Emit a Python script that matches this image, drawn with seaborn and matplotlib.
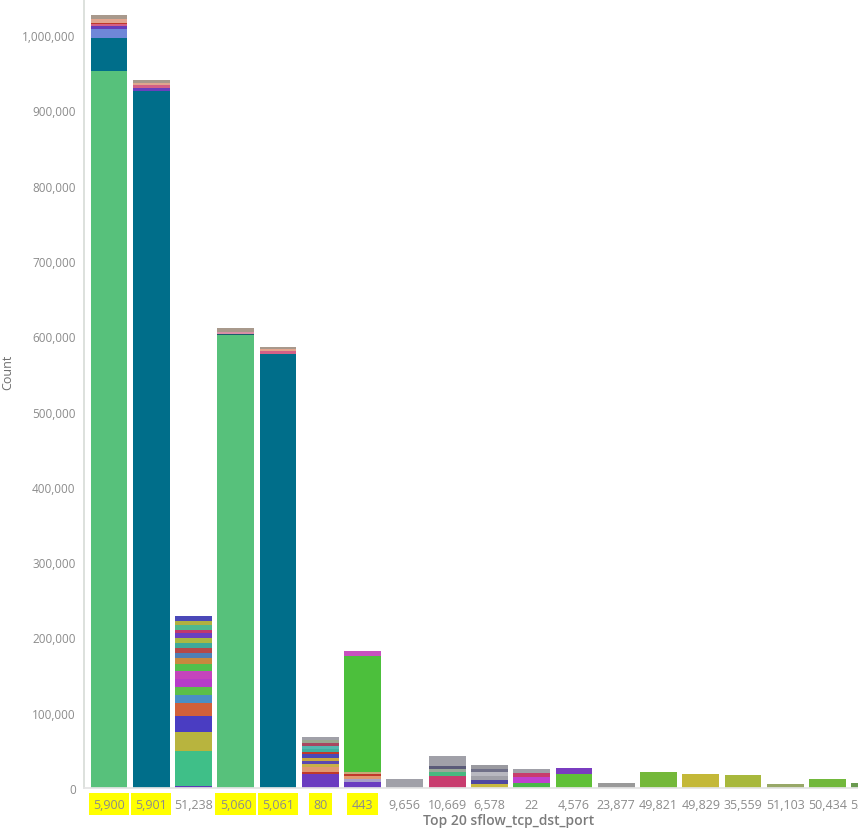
import pandas as pd
import matplotlib
matplotlib.use("Agg")
import matplotlib.pyplot as plt
from matplotlib.ticker import FuncFormatter
import seaborn as sb

# ports in display order (top 20, last ones cut off at the right edge)
ports = ["5,900", "5,901", "51,238", "5,060", "5,061", "80", "443", "9,656",
         "10,669", "6,578", "22", "4,576", "23,877", "49,821", "49,829",
         "35,559", "51,103", "50,434", "52,869"]
highlighted = ["5,900", "5,901", "5,060", "5,061", "80", "443"]

# stacked sub-bucket counts per port, bottom -> top
stack_counts = [
    [952000, 44000, 12000, 3500, 3500, 1300, 5500, 4400],
    [925000, 4000, 4000, 3500, 3500],
    [3000, 46500, 25200, 21200, 16400, 11000, 11000, 11100, 10000, 9700,
     8000, 5700, 7500, 6600, 6600, 6600, 4400, 6600, 4400, 7500],
    [602000, 1500, 2500, 5000],
    [577000, 3000, 3000, 3000],
    [18600, 3000, 5800, 4400, 3500, 4400, 5300, 2200, 4400, 4400, 4400, 3500, 4400],
    [7600, 4400, 4400, 2000, 2500, 154000, 6600],
    [11500],
    [16500, 5300, 3500, 3500, 14000],
    [5500, 5700, 5300, 5300, 3500, 5300],
    [6600, 8000, 5700, 5300],
    [18600, 8000],
    [6500],
    [21000],
    [18600],
    [17700],
    [5300],
    [12000],
    [6600],
]
stack_colors = [
    ["#57c17b", "#006e8a", "#6f87d8", "#663db8", "#d36086", "#c0392b", "#e2a58e", "#a8998c"],
    ["#006e8a", "#6a3fbd", "#d36086", "#e2a58e", "#a8998c"],
    ["#5a3bb5", "#3fbf88", "#b8b43e", "#4a3dc2", "#d1603a", "#4a8fc6", "#5bbf4a",
     "#b63cc8", "#c444bc", "#52c04c", "#c8893e", "#4f7fb4", "#b54848", "#3fa898",
     "#a8b842", "#6a40c0", "#c0386e", "#4fb88e", "#b0b040", "#4a48b8"],
    ["#57c17b", "#1d5a6e", "#d98fa6", "#a8998c"],
    ["#006e8a", "#d36086", "#e2a58e", "#a8998c"],
    ["#6a3cc0", "#c0392b", "#e09870", "#c8b048", "#5a48b0", "#c8a840", "#4a48b8",
     "#c0392b", "#3fb0a0", "#54b8b0", "#a84860", "#9aa890", "#a0a0a8"],
    ["#6a3cc0", "#a8a0c8", "#e09870", "#c0392b", "#c8a878", "#4cbf3c", "#c850c0"],
    ["#a0a0a8"],
    ["#c83c6e", "#48b880", "#9aa898", "#5a5a78", "#a0a0a8"],
    ["#c8b840", "#5048a0", "#a0a0a8", "#b8b8c0", "#707088", "#9a9aa0"],
    ["#48b848", "#c040d0", "#c83c6e", "#a0a0a8"],
    ["#60c038", "#7a3cc0"],
    ["#9a9a9a"],
    ["#74b83a"],
    ["#c4b838"],
    ["#a8b83c"],
    ["#98a868"],
    ["#72b83c"],
    ["#6a9a50"],
]
y_ticks = [0, 100000, 200000, 300000, 400000, 500000, 600000, 700000,
           800000, 900000, 1000000]

# long form table, one row per stacked segment
rows = []
palette = {}
for port, counts, colors in zip(ports, stack_counts, stack_colors):
    for i, (c, col) in enumerate(zip(counts, colors)):
        seg = port + "#" + str(i)
        rows.append({"port": port, "seg": seg, "count": c})
        palette[seg] = col
df = pd.DataFrame(rows)

sb.set_theme(style="white")
plt.rcParams["font.family"] = ["Open Sans", "DejaVu Sans"]

fig = plt.figure(figsize=(8.58, 8.37), dpi=100)
ax = fig.add_axes([0.0979, 0.0573, 0.945, 0.9427])

# seaborn stacks the first hue level on top, so reverse
sb.histplot(data=df, x="port", weights="count", hue="seg",
            hue_order=list(reversed(df["seg"])), palette=palette,
            multiple="stack", discrete=True, shrink=0.87, alpha=1,
            linewidth=0, legend=False, ax=ax)

ax.set_xlim(-0.59, len(ports) - 0.41)
ax.set_ylim(0, 1047800)
ax.set_yticks(y_ticks)
ax.yaxis.set_major_formatter(FuncFormatter(lambda v, _: f"{int(v):,}"))

for s in ["top", "right"]:
    ax.spines[s].set_visible(False)
ax.spines["left"].set_color("#d8ddd8")
ax.spines["bottom"].set_color("#e4e4e4")
ax.tick_params(axis="both", colors="#c8c8c8", labelcolor="#8c8c8c",
               labelsize=8.5, length=4, width=0.8, pad=2)
ax.tick_params(axis="x", labelsize=9, pad=3)

for lab in ax.get_xticklabels():
    if lab.get_text() in highlighted:
        lab.set_bbox(dict(boxstyle="square,pad=0.35", facecolor="#ffff00",
                          edgecolor="none"))

ax.set_ylabel("Count", color="#6e6e6e", fontsize=9)
ax.yaxis.set_label_coords(-0.086, 0.528)
ax.set_xlabel("Top 20 sflow_tcp_dst_port", color="#7b7b7b", fontsize=10,
              fontweight="semibold")
ax.xaxis.set_label_coords(0.524, -0.031)

fig.savefig("out.png", dpi=100)
